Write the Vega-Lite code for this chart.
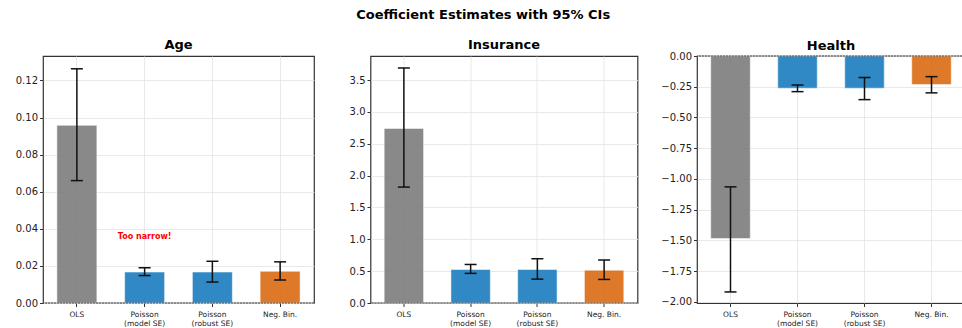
{
  "$schema": "https://vega.github.io/schema/vega-lite/v6.json",
  "padding": {"left": 0, "top": 9, "right": 0, "bottom": 0},
  "background": "white",
  "title": {"text": "Coefficient Estimates with 95% CIs", "anchor": "middle", "fontSize": 13, "fontWeight": "bold", "font": "DejaVu Sans", "color": "#000", "offset": 16},
  "config": {
    "font": "DejaVu Sans",
    "view": {"stroke": "#333333", "strokeWidth": 1.2},
    "title": {"fontSize": 13, "fontWeight": "bold", "font": "DejaVu Sans", "color": "#000", "offset": 4},
    "axis": {"domain": false, "gridColor": "#e3e3e3", "gridWidth": 0.8, "tickColor": "#333", "tickSize": 3.5, "labelColor": "#222", "labelFont": "DejaVu Sans", "title": null, "tickCount": 30, "labelOverlap": false},
    "concat": {"spacing": 13.5}
  },
  "datasets": {
    "coef": [
      {"panel": "Age", "model": "OLS", "family": "OLS", "est": 0.0958, "lo": 0.066, "hi": 0.1263},
      {"panel": "Age", "model": "Poisson\n(model SE)", "family": "Poisson", "est": 0.0167, "lo": 0.0148, "hi": 0.019},
      {"panel": "Age", "model": "Poisson\n(robust SE)", "family": "Poisson", "est": 0.0167, "lo": 0.0113, "hi": 0.0225},
      {"panel": "Age", "model": "Neg. Bin.", "family": "NB", "est": 0.0171, "lo": 0.0124, "hi": 0.0222},
      {"panel": "Insurance", "model": "OLS", "family": "OLS", "est": 2.74, "lo": 1.82, "hi": 3.69},
      {"panel": "Insurance", "model": "Poisson\n(model SE)", "family": "Poisson", "est": 0.525, "lo": 0.465, "hi": 0.605},
      {"panel": "Insurance", "model": "Poisson\n(robust SE)", "family": "Poisson", "est": 0.525, "lo": 0.375, "hi": 0.695},
      {"panel": "Insurance", "model": "Neg. Bin.", "family": "NB", "est": 0.515, "lo": 0.37, "hi": 0.675},
      {"panel": "Health", "model": "OLS", "family": "OLS", "est": -1.485, "lo": -1.92, "hi": -1.065},
      {"panel": "Health", "model": "Poisson\n(model SE)", "family": "Poisson", "est": -0.262, "lo": -0.29, "hi": -0.236},
      {"panel": "Health", "model": "Poisson\n(robust SE)", "family": "Poisson", "est": -0.262, "lo": -0.355, "hi": -0.175},
      {"panel": "Health", "model": "Neg. Bin.", "family": "NB", "est": -0.232, "lo": -0.3, "hi": -0.168}
    ],
    "notes": [
      {"panel": "Age", "model": "Poisson\n(model SE)", "y": 0.0355, "note": "Too narrow!"}
    ],
    "zero": [{"y": 0}]
  },
  "hconcat": [
    {
      "title": "Age",
      "width": 271, "height": 247,
      "layer": [
        {
          "data": {"name": "coef"},
          "transform": [{"filter": "datum.panel === 'Age'"}],
          "mark": {"type": "bar", "stroke": "white", "strokeOpacity": 0.5, "strokeWidth": 1, "opacity": 0.92},
          "encoding": {
            "x": {"field": "model", "type": "nominal", "sort": ["OLS", "Poisson\n(model SE)", "Poisson\n(robust SE)", "Neg. Bin."],
                  "scale": {"paddingInner": 0.41, "paddingOuter": 0.205},
                  "axis": {"labelAngle": 0, "labelFontSize": 7.5, "labelExpr": "split(datum.label, '\\n')", "bandPosition": 0.5, "grid": true, "labelPadding": 4, "labelLineHeight": 9, "minExtent": 26, "maxExtent": 26}},
            "y": {"field": "est", "type": "quantitative", "scale": {"domain": [0, 0.1332], "nice": false, "zero": false},
                  "axis": {"values": [0, 0.02, 0.04, 0.06, 0.08, 0.1, 0.12], "format": ".2f", "labelFontSize": 10, "minExtent": 42, "maxExtent": 42}},
            "color": {"field": "family", "type": "nominal", "scale": {"domain": ["OLS", "Poisson", "NB"], "range": ["#7f7f7f", "#1f80c0", "#dc6e18"]}, "legend": null}
          }
        },
        {
          "data": {"name": "zero"},
          "mark": {"type": "rule", "color": "#555", "strokeWidth": 1, "strokeDash": [2, 1]},
          "encoding": {"y": {"field": "y", "type": "quantitative"}}
        },
        {
          "data": {"name": "coef"},
          "transform": [{"filter": "datum.panel === 'Age'"}],
          "mark": {"type": "rule", "color": "#111", "strokeWidth": 1.5},
          "encoding": {"x": {"field": "model", "type": "nominal", "sort": ["OLS", "Poisson\n(model SE)", "Poisson\n(robust SE)", "Neg. Bin."]}, "y": {"field": "lo", "type": "quantitative"}, "y2": {"field": "hi"}}
        },
        {
          "data": {"name": "coef"},
          "transform": [{"filter": "datum.panel === 'Age'"}],
          "mark": {"type": "tick", "color": "#111", "thickness": 1.5, "size": 12, "opacity": 1},
          "encoding": {"x": {"field": "model", "type": "nominal", "sort": ["OLS", "Poisson\n(model SE)", "Poisson\n(robust SE)", "Neg. Bin."]}, "y": {"field": "lo", "type": "quantitative"}}
        },
        {
          "data": {"name": "coef"},
          "transform": [{"filter": "datum.panel === 'Age'"}],
          "mark": {"type": "tick", "color": "#111", "thickness": 1.5, "size": 12, "opacity": 1},
          "encoding": {"x": {"field": "model", "type": "nominal", "sort": ["OLS", "Poisson\n(model SE)", "Poisson\n(robust SE)", "Neg. Bin."]}, "y": {"field": "hi", "type": "quantitative"}}
        },
        {
          "data": {"name": "notes"},
          "mark": {"type": "text", "color": "#ff0000", "fontSize": 8, "fontWeight": "bold", "font": "DejaVu Sans"},
          "encoding": {"x": {"field": "model", "type": "nominal", "sort": ["OLS", "Poisson\n(model SE)", "Poisson\n(robust SE)", "Neg. Bin."]}, "y": {"field": "y", "type": "quantitative"}, "text": {"field": "note"}}
        }
      ]
    },
    {
      "title": "Insurance",
      "width": 267, "height": 247,
      "layer": [
        {
          "data": {"name": "coef"},
          "transform": [{"filter": "datum.panel === 'Insurance'"}],
          "mark": {"type": "bar", "stroke": "white", "strokeOpacity": 0.5, "strokeWidth": 1, "opacity": 0.92},
          "encoding": {
            "x": {"field": "model", "type": "nominal", "sort": ["OLS", "Poisson\n(model SE)", "Poisson\n(robust SE)", "Neg. Bin."],
                  "scale": {"paddingInner": 0.41, "paddingOuter": 0.205},
                  "axis": {"labelAngle": 0, "labelFontSize": 7.5, "labelExpr": "split(datum.label, '\\n')", "bandPosition": 0.5, "grid": true, "labelPadding": 4, "labelLineHeight": 9, "minExtent": 26, "maxExtent": 26}},
            "y": {"field": "est", "type": "quantitative", "scale": {"domain": [0, 3.878], "nice": false, "zero": false},
                  "axis": {"values": [0, 0.5, 1, 1.5, 2, 2.5, 3, 3.5], "format": ".1f", "labelFontSize": 10, "minExtent": 40, "maxExtent": 40}},
            "color": {"field": "family", "type": "nominal", "scale": {"domain": ["OLS", "Poisson", "NB"], "range": ["#7f7f7f", "#1f80c0", "#dc6e18"]}, "legend": null}
          }
        },
        {
          "data": {"name": "zero"},
          "mark": {"type": "rule", "color": "#555", "strokeWidth": 1, "strokeDash": [2, 1]},
          "encoding": {"y": {"field": "y", "type": "quantitative"}}
        },
        {
          "data": {"name": "coef"},
          "transform": [{"filter": "datum.panel === 'Insurance'"}],
          "mark": {"type": "rule", "color": "#111", "strokeWidth": 1.5},
          "encoding": {"x": {"field": "model", "type": "nominal", "sort": ["OLS", "Poisson\n(model SE)", "Poisson\n(robust SE)", "Neg. Bin."]}, "y": {"field": "lo", "type": "quantitative"}, "y2": {"field": "hi"}}
        },
        {
          "data": {"name": "coef"},
          "transform": [{"filter": "datum.panel === 'Insurance'"}],
          "mark": {"type": "tick", "color": "#111", "thickness": 1.5, "size": 12, "opacity": 1},
          "encoding": {"x": {"field": "model", "type": "nominal", "sort": ["OLS", "Poisson\n(model SE)", "Poisson\n(robust SE)", "Neg. Bin."]}, "y": {"field": "lo", "type": "quantitative"}}
        },
        {
          "data": {"name": "coef"},
          "transform": [{"filter": "datum.panel === 'Insurance'"}],
          "mark": {"type": "tick", "color": "#111", "thickness": 1.5, "size": 12, "opacity": 1},
          "encoding": {"x": {"field": "model", "type": "nominal", "sort": ["OLS", "Poisson\n(model SE)", "Poisson\n(robust SE)", "Neg. Bin."]}, "y": {"field": "hi", "type": "quantitative"}}
        }
      ]
    },
    {
      "title": {"text": "Health", "offset": -2},
      "width": 268, "height": 247,
      "layer": [
        {
          "data": {"name": "coef"},
          "transform": [{"filter": "datum.panel === 'Health'"}],
          "mark": {"type": "bar", "stroke": "white", "strokeOpacity": 0.5, "strokeWidth": 1, "opacity": 0.92},
          "encoding": {
            "x": {"field": "model", "type": "nominal", "sort": ["OLS", "Poisson\n(model SE)", "Poisson\n(robust SE)", "Neg. Bin."],
                  "scale": {"paddingInner": 0.41, "paddingOuter": 0.205},
                  "axis": {"labelAngle": 0, "labelFontSize": 7.5, "labelExpr": "split(datum.label, '\\n')", "bandPosition": 0.5, "grid": true, "labelPadding": 4, "labelLineHeight": 9, "minExtent": 26, "maxExtent": 26}},
            "y": {"field": "est", "type": "quantitative", "scale": {"domain": [-2.01, 0], "nice": false, "zero": false},
                  "axis": {"values": [0, -0.25, -0.5, -0.75, -1, -1.25, -1.5, -1.75, -2], "format": ".2f", "labelFontSize": 10, "minExtent": 43, "maxExtent": 43}},
            "color": {"field": "family", "type": "nominal", "scale": {"domain": ["OLS", "Poisson", "NB"], "range": ["#7f7f7f", "#1f80c0", "#dc6e18"]}, "legend": null}
          }
        },
        {
          "data": {"name": "zero"},
          "mark": {"type": "rule", "color": "#555", "strokeWidth": 1, "strokeDash": [2, 1]},
          "encoding": {"y": {"field": "y", "type": "quantitative"}}
        },
        {
          "data": {"name": "coef"},
          "transform": [{"filter": "datum.panel === 'Health'"}],
          "mark": {"type": "rule", "color": "#111", "strokeWidth": 1.5},
          "encoding": {"x": {"field": "model", "type": "nominal", "sort": ["OLS", "Poisson\n(model SE)", "Poisson\n(robust SE)", "Neg. Bin."]}, "y": {"field": "lo", "type": "quantitative"}, "y2": {"field": "hi"}}
        },
        {
          "data": {"name": "coef"},
          "transform": [{"filter": "datum.panel === 'Health'"}],
          "mark": {"type": "tick", "color": "#111", "thickness": 1.5, "size": 12, "opacity": 1},
          "encoding": {"x": {"field": "model", "type": "nominal", "sort": ["OLS", "Poisson\n(model SE)", "Poisson\n(robust SE)", "Neg. Bin."]}, "y": {"field": "lo", "type": "quantitative"}}
        },
        {
          "data": {"name": "coef"},
          "transform": [{"filter": "datum.panel === 'Health'"}],
          "mark": {"type": "tick", "color": "#111", "thickness": 1.5, "size": 12, "opacity": 1},
          "encoding": {"x": {"field": "model", "type": "nominal", "sort": ["OLS", "Poisson\n(model SE)", "Poisson\n(robust SE)", "Neg. Bin."]}, "y": {"field": "hi", "type": "quantitative"}}
        }
      ]
    }
  ],
  "resolve": {"scale": {"y": "independent", "x": "independent"}}
}
